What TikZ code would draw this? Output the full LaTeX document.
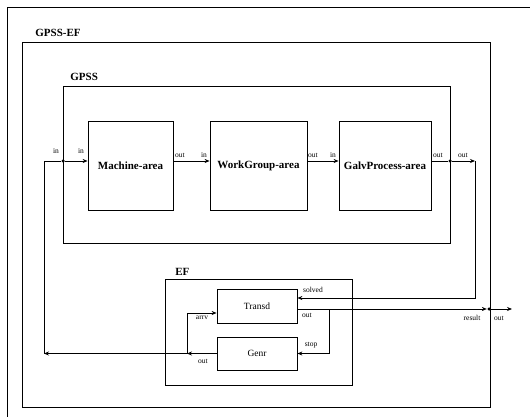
\documentclass[tikz,border=0pt]{standalone}
\usepackage{fontspec}
\setmainfont{Liberation Serif}
\usetikzlibrary{arrows.meta}
\begin{document}
\begin{tikzpicture}[
  x=1pt, y=-1pt, line width=0.8pt,
  every node/.style={inner sep=0pt},
  frame/.style={draw},
  block/.style={draw, font=\fontsize{11}{12}\selectfont\bfseries},
  atomic/.style={draw, font=\fontsize{9.5}{10}\selectfont},
  title/.style={anchor=base west, font=\fontsize{11}{12}\selectfont\bfseries},
  port/.style={font=\fontsize{7.5}{8}\selectfont},
  junction/.style={circle, fill, minimum size=3.5pt},
  flow/.style={-{Stealth[length=5pt,width=4pt]}}
]
\useasboundingbox (0,0) rectangle (530,417);
\draw (7,417) -- (7,7) -- (530,7);
% coupled models
\node[frame, minimum width=468pt, minimum height=365pt] (gpssef) at (256,224.5) {};
\node[title] (gpssefname) at (35,37) {GPSS-EF};
\node[frame, minimum width=387pt, minimum height=157pt] (gpss) at (256.5,164.5) {};
\node[title] (gpssname) at (70,81) {GPSS};
\node[frame, minimum width=187pt, minimum height=106pt] (ef) at (258.5,332) {};
\node[title] (efname) at (175,275) {EF};
% components
\node[block, minimum width=85pt, minimum height=89pt] (machine) at (130.5,165.5) {Machine-area};
\node[block, minimum width=97pt, minimum height=89pt] (workgroup) at (258.5,165.5) {WorkGroup-area};
\node[block, minimum width=92pt, minimum height=89pt] (galv) at (385,165.5) {GalvProcess-area};
\node[atomic, minimum width=80pt, minimum height=34pt] (transd) at (257,306) {Transd};
\node[atomic, minimum width=80pt, minimum height=33pt] (genr) at (257,353.5) {Genr};
% ports
\node[junction] (gpssin) at (63,161) {};
\node[junction] (gpssout) at (450,161) {};
\node[junction] (result) at (489,309) {};
\coordinate (loopl) at (44,161);
\coordinate (loopb) at (44,353.5);
\coordinate (split) at (187,353.5);
\coordinate (fbk) at (475,161);
\coordinate (sysout) at (512,309);
\coordinate (solvedin) at ([yshift=8pt]transd.east);
\coordinate (transdout) at ([yshift=-3pt]transd.east);
\coordinate (arrvin) at ([yshift=-7pt]transd.west);
\coordinate (branch) at (329,309);
% couplings
\draw (loopb) -- (loopl) -- (gpssin);
\draw[flow] (gpssin) -- (machine.west |- gpssin);
\draw[flow] (machine.east |- gpssin) -- (workgroup.west |- gpssin);
\draw[flow] (workgroup.east |- gpssin) -- (galv.west |- gpssin);
\draw (galv.east |- gpssin) -- (gpssout);
\draw[flow] (gpssout) -- (fbk);
\draw[flow] (fbk) -- (fbk |- solvedin) -- (solvedin);
\draw[flow] (transdout) -- (result);
\draw[flow] (result) -- (sysout);
\draw[flow] (branch) -- (branch |- genr.east) -- (genr.east);
\draw[flow] (genr.west) -- (split);
\draw[flow] (split) -- (loopb);
\draw[flow] (split) -- (split |- arrvin) -- (arrvin);
% port labels
\node[port] (lin1) at (56,151) {in};
\node[port] (lin2) at (81,151) {in};
\node[port] (lout1) at (180,155) {out};
\node[port] (lin3) at (204,155) {in};
\node[port] (lout2) at (313,155) {out};
\node[port] (lin4) at (333,155) {in};
\node[port] (lout3) at (438,155) {out};
\node[port] (lout4) at (463,155) {out};
\node[port] (lsolved) at (313,290) {solved};
\node[port] (lout5) at (307,315) {out};
\node[port] (lstop) at (311,345) {stop};
\node[port] (larrv) at (202,318) {arrv};
\node[port] (lout6) at (203,361) {out};
\node[port] (lresult) at (472,318) {result};
\node[port] (lout7) at (499,318) {out};
\end{tikzpicture}
\end{document}
